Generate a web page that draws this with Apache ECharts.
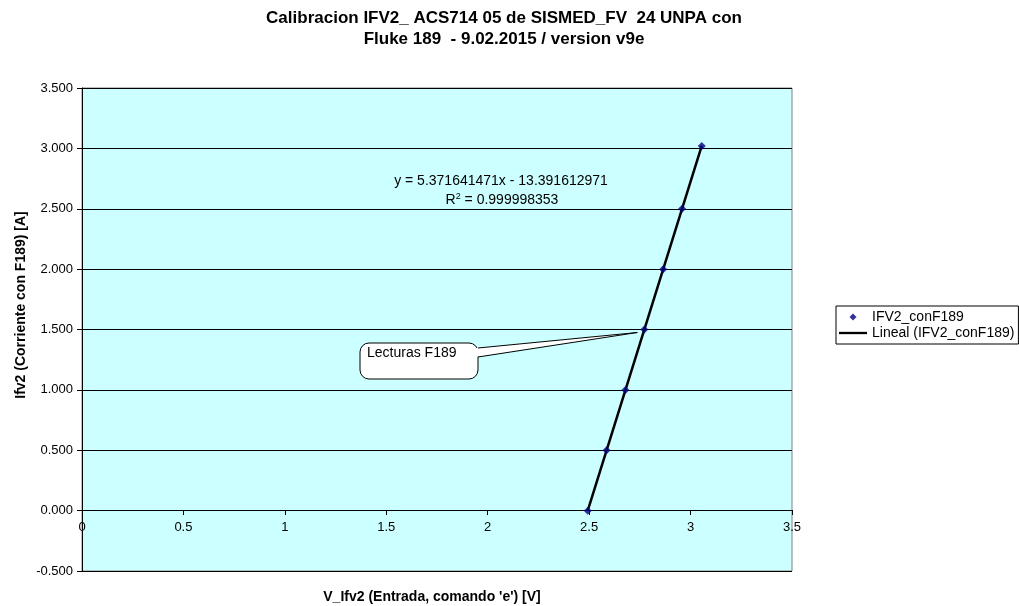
<!DOCTYPE html>
<html>
<head>
<meta charset="utf-8">
<script src="https://cdn.jsdelivr.net/npm/echarts@6/dist/echarts.min.js"></script>
<style>
html,body{margin:0;padding:0;background:#fff;}
#c{width:1019px;height:606px;}
</style>
</head>
<body>
<div id="c"></div>
<script>
// Data
var seriesName = 'IFV2_conF189';
var trendName = 'Lineal (IFV2_conF189)';
var xValues = [2.493, 2.586, 2.679, 2.772, 2.865, 2.958, 3.055];
var yValues = [0.000, 0.500, 1.000, 1.500, 2.000, 2.500, 3.020];
var trendX = [2.493, 3.055];
var trendY = [0.000, 3.020];
var xTicks = [0, 0.5, 1, 1.5, 2, 2.5, 3, 3.5];
var yTicks = [-0.5, 0, 0.5, 1, 1.5, 2, 2.5, 3, 3.5];
var titleText = 'Calibracion IFV2_ ACS714 05 de SISMED_FV  24 UNPA con\nFluke 189  - 9.02.2015 / version v9e';
var xName = "V_Ifv2 (Entrada, comando 'e') [V]";
var yName = 'Ifv2 (Corriente con F189) [A]';
var eqText = 'y = 5.371641471x - 13.391612971';
var r2Value = '0.999998353';
var calloutText = 'Lecturas F189';
var calloutPoint = [2.772, 1.5];

var FONT = '"Liberation Sans", Arial, sans-serif';
var chart = echarts.init(document.getElementById('c'), null, {renderer: 'canvas'});

var pts = xValues.map(function (x, i) { return [x, yValues[i]]; });
var trend = trendX.map(function (x, i) { return [x, trendY[i]]; });

var option = {
  animation: false,
  textStyle: {fontFamily: FONT},
  grid: [
    {left: 82, right: 227, top: 88, bottom: 35,
     show: true, backgroundColor: '#CCFFFF', borderColor: '#808080', borderWidth: 1},
    {left: 82, right: 227, top: 88, bottom: 96, show: false}
  ],
  xAxis: [
    {gridIndex: 0, type: 'value', min: xTicks[0], max: xTicks[xTicks.length - 1], interval: 0.5,
     axisLine: {show: false}, axisTick: {show: false}, axisLabel: {show: false}, splitLine: {show: false}},
    {gridIndex: 1, type: 'value', min: xTicks[0], max: xTicks[xTicks.length - 1], interval: 0.5,
     axisLine: {show: true, onZero: false, lineStyle: {color: '#000', width: 1}},
     axisTick: {show: true, length: 5, lineStyle: {color: '#000'}},
     axisLabel: {color: '#000', fontSize: 13, fontFamily: FONT, margin: 11},
     splitLine: {show: false}}
  ],
  yAxis: [
    {gridIndex: 0, type: 'value', min: yTicks[0], max: yTicks[yTicks.length - 1], interval: 0.5,
     axisLine: {show: true, onZero: false, lineStyle: {color: '#000', width: 1}},
     axisTick: {show: true, length: 5, lineStyle: {color: '#000'}},
     axisLabel: {color: '#000', fontSize: 13, fontFamily: FONT, margin: 9,
       formatter: function (v) { return v.toFixed(3); }},
     splitLine: {show: true, lineStyle: {color: '#000', width: 1}}},
    {gridIndex: 1, type: 'value', min: 0, max: 3.5, show: false}
  ],
  legend: {
    orient: 'vertical', left: 836, top: 306,
    borderColor: '#000', borderWidth: 1, padding: [4, 4, 4, 3],
    itemGap: 2, itemWidth: 28, itemHeight: 7, itemSymbolKeepAspect: true,
    textStyle: {color: '#000', fontSize: 14, fontFamily: FONT},
    data: [
      {name: seriesName, icon: 'path://M5,0 L10,5 L5,10 L0,5 Z', itemStyle: {color: '#000080'}},
      {name: trendName, icon: 'path://M0,0 L60,0 L60,5 L0,5 Z', itemStyle: {color: '#000'}}
    ]
  },
  series: [
    {
      name: trendName, type: 'line', data: trend, symbol: 'none', z: 3, xAxisIndex: 0, yAxisIndex: 0,
      lineStyle: {color: '#000', width: 2.5}, itemStyle: {color: '#000'}
    },
    {
      name: seriesName, type: 'scatter', data: pts, symbol: 'diamond', symbolSize: 8, z: 4,
      xAxisIndex: 0, yAxisIndex: 0,
      itemStyle: {color: '#000080'}
    }
  ]
};
chart.setOption(option);

var tip = chart.convertToPixel({xAxisIndex: 0, yAxisIndex: 0}, calloutPoint);
var tx = tip[0] - 7, ty = tip[1] + 3;
var L = 360, R = 478, T = 343, B = 379;

chart.setOption({
  graphic: [
    {type: 'text', x: 504, y: 8, z: 10,
      style: {text: titleText, font: 'bold 17px ' + FONT, fill: '#000', textAlign: 'center', lineHeight: 21}},
    {type: 'text', x: 432, y: 597, z: 10,
      style: {text: xName, font: 'bold 14px ' + FONT, fill: '#000', textAlign: 'center', textVerticalAlign: 'middle'}},
    {type: 'text', x: 21, y: 305, rotation: Math.PI / 2, z: 10,
      style: {text: yName, font: 'bold 14px ' + FONT, fill: '#000', textAlign: 'center', textVerticalAlign: 'middle'}},
    {type: 'text', x: 501, y: 181, z: 10,
      style: {text: eqText, font: '14px ' + FONT, fill: '#000', textAlign: 'center', textVerticalAlign: 'middle'}},
    {type: 'text', x: 502, y: 200, z: 10,
      style: {
        text: '{a|R}{s|2}{a| = ' + r2Value + '}', textAlign: 'center', textVerticalAlign: 'middle',
        rich: {
          a: {font: '14px ' + FONT, fill: '#000', verticalAlign: 'bottom'},
          s: {font: '9px ' + FONT, fill: '#000', verticalAlign: 'top', padding: [0, 0, 6, 0]}
        }
      }},
    {type: 'rect', z: 20, shape: {x: L, y: T, width: R - L, height: B - T, r: 9},
      style: {fill: '#fff', stroke: '#000', lineWidth: 1}},
    {type: 'polygon', z: 21, shape: {points: [[R - 2, T + 5], [tx, ty], [R - 2, T + 14]]},
      style: {fill: '#fff', stroke: null}},
    {type: 'line', z: 22, shape: {x1: R, y1: T + 5, x2: tx, y2: ty},
      style: {stroke: '#000', lineWidth: 1}},
    {type: 'line', z: 22, shape: {x1: R, y1: T + 14, x2: tx, y2: ty},
      style: {stroke: '#000', lineWidth: 1}},
    {type: 'text', x: 367, y: 353, z: 23,
      style: {text: calloutText, font: '14px ' + FONT, fill: '#000', textVerticalAlign: 'middle'}}
  ]
});
</script>
</body>
</html>
